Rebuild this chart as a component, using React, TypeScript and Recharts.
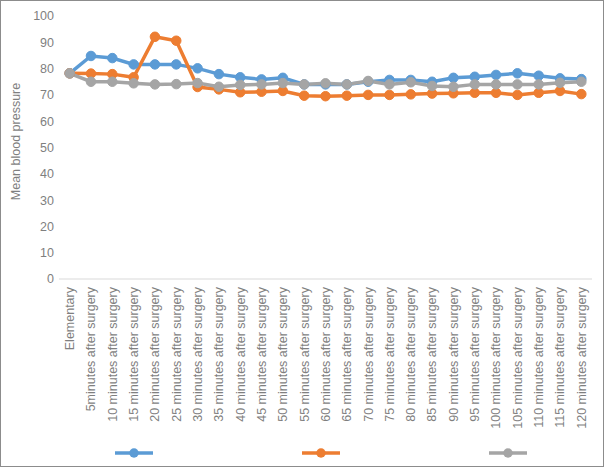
import { LineChart, Line, XAxis, YAxis, Legend, Label } from "recharts";

const categories = [
  "Elementary",
  "5minutes after surgery",
  "10 minutes after surgery",
  "15 minutes after surgery",
  "20 minutes after surgery",
  "25 minutes after surgery",
  "30 minutes after surgery",
  "35 minutes after surgery",
  "40 minutes after surgery",
  "45 minutes after surgery",
  "50 minutes after surgery",
  "55 minutes after surgery",
  "60 minutes after surgery",
  "65 minutes after surgery",
  "70 minutes after surgery",
  "75 minutes after surgery",
  "80 minutes after surgery",
  "85 minutes after surgery",
  "90 minutes after surgery",
  "95 minutes after surgery",
  "100 minutes after surgery",
  "105 minutes after surgery",
  "110 minutes after surgery",
  "115 minutes after surgery",
  "120 minutes after surgery",
];

const seriesBlue = [
  78.2, 84.8, 84.0, 81.6, 81.6, 81.6, 80.1, 77.9, 76.7, 75.9, 76.5, 74.0, 74.0,
  74.0, 75.0, 75.7, 75.7, 75.0, 76.5, 76.9, 77.6, 78.2, 77.3, 76.3, 76.0,
];
const seriesOrange = [
  78.2, 78.1, 77.9, 76.7, 92.1, 90.6, 73.0, 72.1, 71.0, 71.2, 71.5, 69.7, 69.5,
  69.7, 70.0, 70.0, 70.2, 70.5, 70.6, 70.8, 70.8, 70.0, 70.8, 71.5, 70.3,
];
const seriesGray = [
  78.2, 75.0, 75.0, 74.4, 74.0, 74.1, 74.5, 73.1, 73.8, 74.0, 74.5, 74.0, 74.4,
  74.0, 75.3, 74.0, 74.8, 73.4, 73.1, 74.0, 74.0, 74.0, 74.0, 74.6, 75.0,
];

const yTicks = [0, 10, 20, 30, 40, 50, 60, 70, 80, 90, 100];

const data = categories.map((name, i) => ({
  name,
  blue: seriesBlue[i],
  orange: seriesOrange[i],
  gray: seriesGray[i],
}));

const FONT = '"Liberation Sans", Arial, sans-serif';
const TEXT_COLOR = "#7f7f7f";
const FONT_SIZE = 12.5;

function XTick({ x, y, payload }: any) {
  return (
    <g transform={`translate(${x},${y})`}>
      <text
        x={-8}
        y={0}
        dy="0.35em"
        transform="rotate(-90)"
        textAnchor="end"
        fill={TEXT_COLOR}
        fontSize={FONT_SIZE}
        fontFamily={FONT}
      >
        {payload.value}
      </text>
    </g>
  );
}

function LegendContent({ payload }: any) {
  return (
    <div
      style={{
        marginLeft: 114,
        width: 412,
        height: 20,
        display: "flex",
        justifyContent: "space-between",
        alignItems: "center",
      }}
    >
      {(payload || []).map((entry: any, i: number) => (
        <svg key={`leg-${i}`} width={38} height={12}>
          <line x1={0} y1={6} x2={38} y2={6} stroke={entry.color} strokeWidth={3.5} />
          <circle cx={19} cy={6} r={4.75} fill={entry.color} />
        </svg>
      ))}
    </div>
  );
}

export default function App() {
  return (
    <div
      style={{
        position: "absolute",
        left: 0,
        top: 0,
        width: 602,
        height: 465,
        border: "1px solid #8c8c8c",
        background: "#fff",
      }}
    >
      <LineChart
        width={602}
        height={465}
        data={data}
        margin={{ top: 15, right: 11, left: 0, bottom: 3 }}
      >
        <XAxis
          dataKey="name"
          interval={0}
          tickLine={false}
          tickSize={0}
          tickMargin={0}
          height={164}
          stroke="#d9d9d9"
          padding={{ left: 10.66, right: 10.66 }}
          tick={<XTick />}
        />
        <YAxis
          domain={[0, 100]}
          ticks={yTicks}
          width={58}
          axisLine={false}
          tickLine={false}
          tickSize={0}
          tickMargin={5}
          tick={{ fill: TEXT_COLOR, fontSize: FONT_SIZE, fontFamily: FONT }}
        >
          <Label
            content={(props: any) => {
              const vb = props.viewBox || { x: 0, y: 15, width: 58, height: 263 };
              const cx = 15;
              const cy = vb.y + vb.height / 2 - 6;
              return (
                <text
                  x={cx}
                  y={cy}
                  transform={`rotate(-90 ${cx} ${cy})`}
                  textAnchor="middle"
                  dominantBaseline="central"
                  fill={TEXT_COLOR}
                  fontSize={FONT_SIZE}
                  fontFamily={FONT}
                >
                  Mean blood pressure
                </text>
              );
            }}
          />
        </YAxis>
        <Legend verticalAlign="bottom" height={20} content={<LegendContent />} />
        <Line
          dataKey="blue"
          name=" "
          stroke="#5b9bd5"
          strokeWidth={3.5}
          dot={{ r: 4.75, fill: "#5b9bd5", stroke: "#5b9bd5", strokeWidth: 1 }}
          isAnimationActive={false}
        />
        <Line
          dataKey="orange"
          name="  "
          stroke="#ed7d31"
          strokeWidth={3.5}
          dot={{ r: 4.75, fill: "#ed7d31", stroke: "#ed7d31", strokeWidth: 1 }}
          isAnimationActive={false}
        />
        <Line
          dataKey="gray"
          name="   "
          stroke="#a5a5a5"
          strokeWidth={3.5}
          dot={{ r: 4.75, fill: "#a5a5a5", stroke: "#a5a5a5", strokeWidth: 1 }}
          isAnimationActive={false}
        />
      </LineChart>
    </div>
  );
}
